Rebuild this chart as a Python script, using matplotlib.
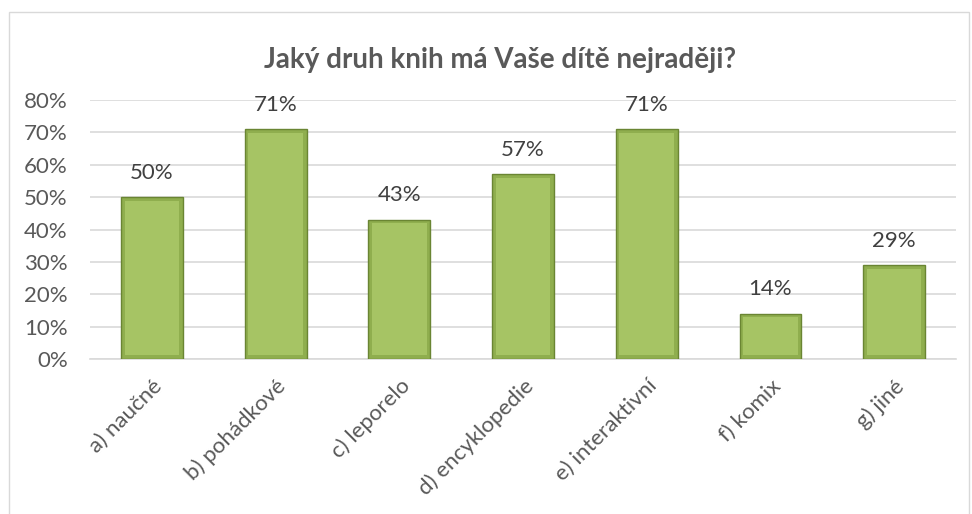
import matplotlib.pyplot as plt
import matplotlib.patches as mpatches
import numpy as np

# data
categories = ["a) naučné", "b) pohádkové", "c) leporelo", "d) encyklopedie",
              "e) interaktivní", "f) komix", "g) jiné"]
values = [50, 71, 43, 57, 71, 14, 29]
title = "Jaký druh knih má Vaše dítě nejraději?"

plt.rcParams['font.family'] = ['Lato', 'DejaVu Sans']
text_col = "#595959"

fig = plt.figure(figsize=(9.72, 5.14), dpi=100)
# outer chart border
fig.patches.append(mpatches.Rectangle((9 / 972, -0.05), 960 / 972, 1 - 12 / 514 + 0.05,
                                      transform=fig.transFigure, fill=False,
                                      edgecolor="#d9d9d9", linewidth=1))

ax = fig.add_axes([90 / 972, 1 - 359 / 514, 866 / 972, 259 / 514])
x = np.arange(len(categories))
bars = ax.bar(x, values, width=0.5, color="#8fae4e", edgecolor="#6a8533",
              linewidth=1.0, zorder=3)
# lighter inner face to mimic the bevel
ax.bar(x, [v - 2.2 for v in values], width=0.44, bottom=1.1, color="#a6c464",
       linewidth=0, zorder=4)

for xi, v in zip(x, values):
    ax.text(xi, v + 4.5, f"{v}%", ha="center", va="bottom", fontsize=16, color="#404040")

ax.set_xlim(-0.5, len(categories) - 0.5)
ax.set_ylim(0, 80)
ax.set_yticks(range(0, 81, 10))
ax.set_yticklabels([f"{t}%" for t in range(0, 81, 10)], fontsize=16, color=text_col)
ax.set_xticks(x)
ax.set_xticklabels(categories, rotation=45, ha="right", rotation_mode="anchor",
                   fontsize=16, color=text_col)
ax.tick_params(length=0)
ax.tick_params(axis="x", pad=12)
ax.tick_params(axis="y", pad=16)
ax.grid(axis="y", color="#d9d9d9", linewidth=1.2, zorder=0)
for s in ["top", "right", "left"]:
    ax.spines[s].set_visible(False)
ax.spines["bottom"].set_color("#d9d9d9")
ax.spines["bottom"].set_linewidth(1.2)

fig.text(500 / 972, 1 - 60 / 514, title, ha="center", va="center",
         fontsize=20, fontweight="bold", color=text_col)

fig.savefig("out.png", dpi=100)
